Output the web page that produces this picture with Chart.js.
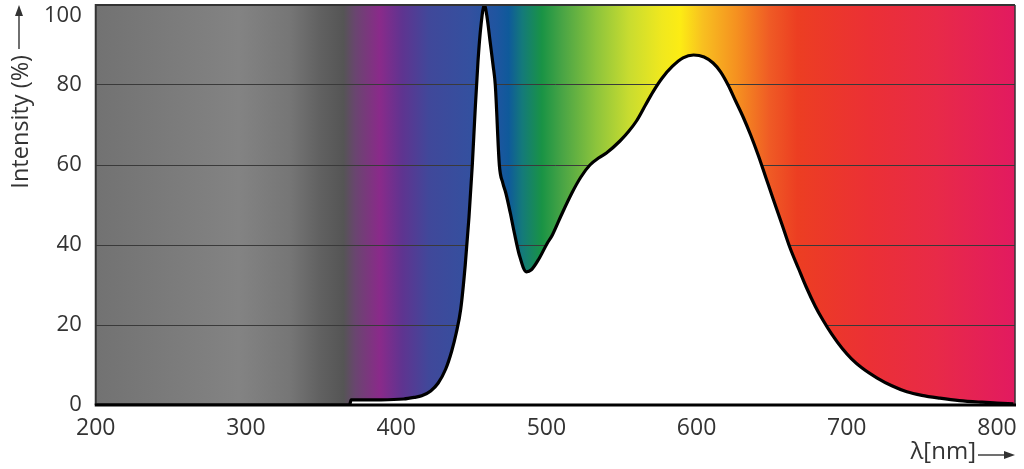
<!DOCTYPE html>
<html>
<head>
<meta charset="utf-8">
<script src="https://cdn.jsdelivr.net/npm/chart.js@4.4.1/dist/chart.umd.min.js"></script>
<style>
  html, body { margin: 0; padding: 0; background: #ffffff; }
  #wrap { width: 1024px; height: 469px; position: relative; }
</style>
</head>
<body>
<div id="wrap"><canvas id="c"></canvas></div>
<script>
// ---- data ----
const wavelengths = [200, 369, 370, 390, 405, 412, 417, 423, 428, 433, 437, 440, 443, 446, 448.5, 450.7, 452.5, 454.5, 456.5, 458.7, 460.5, 462.5, 464.5, 466, 468.7, 471, 473, 476, 478.7, 482, 486.7, 490, 495, 500.7, 504, 510, 517, 523, 529, 535, 540, 549, 555, 560, 566, 571, 577, 584, 591, 598, 605, 611, 616, 621, 626, 631, 636, 641, 646, 651, 657, 662, 668, 673, 679, 684, 690, 697, 703, 710, 720, 730, 740, 750, 762, 775, 790, 800, 811];
const intensity   = [0, 0, 1.3, 1.3, 1.5, 1.9, 2.3, 3.5, 5.5, 9, 13.5, 18, 24, 35, 47, 60, 73, 86, 95, 100, 97, 91, 85, 80, 60, 55.5, 53, 48, 43, 37.5, 33.3, 33.8, 36.5, 40.5, 42.5, 47.5, 53, 57, 60, 61.8, 63, 66, 68.5, 71, 75, 78.3, 81.7, 84.7, 86.8, 87.5, 87, 85.5, 83.3, 80, 76, 72, 67.5, 62.5, 57, 51.5, 45, 39.5, 34, 29.5, 24.7, 21.3, 17.7, 14.1, 11.6, 9.3, 6.8, 4.8, 3.3, 2.4, 1.7, 1.1, 0.7, 0.5, 0.3];
const xTickValues = [200, 300, 400, 500, 600, 700, 800];
const yTickValues = [0, 20, 40, 60, 80, 100];
const yTitle = 'Intensity (%)';
const xTitle = 'λ[nm]';

// ---- spectrum background colour stops (style: wavelength -> colour) ----
const spectrumStops = [
  [200, '#727272'], [295, '#838383'], [329, '#767676'], [349, '#616161'], [365, '#555555'],
  [373, '#6a4570'], [389, '#8a2a8a'], [404, '#5f3490'], [422, '#40489a'], [449, '#34509f'],
  [467, '#1e55a0'], [475, '#0f5a9a'], [484, '#147a7a'], [497, '#199345'], [511, '#4aa545'],
  [533, '#8cc43c'], [555, '#c8dc30'], [577, '#f0e81e'], [589, '#fcec14'], [604, '#f8c020'],
  [627, '#f59020'], [649, '#ef5a25'], [667, '#ec3e22'], [715, '#eb3035'], [760, '#e82a48'],
  [812, '#e21a60']
];

const FONT = '"Open Sans", "DejaVu Sans", sans-serif';
const TEXT_COLOR = '#333333';

const spectrumPlugin = {
  id: 'spectrum',
  beforeDraw(chart) {
    const { ctx, chartArea: a, scales } = chart;
    const xs = scales.x;
    const g = ctx.createLinearGradient(a.left, 0, a.right, 0);
    const w = a.right - a.left;
    spectrumStops.forEach(([nm, col]) => {
      let t = (xs.getPixelForValue(nm) - a.left) / w;
      t = Math.max(0, Math.min(1, t));
      g.addColorStop(t, col);
    });
    ctx.save();
    ctx.fillStyle = g;
    ctx.fillRect(a.left, a.top, w, a.bottom - a.top);
    ctx.restore();
  },
  afterDatasetsDraw(chart) {
    const { ctx, chartArea: a } = chart;
    ctx.save();
    ctx.strokeStyle = '#333333';
    ctx.lineWidth = 2;
    ctx.beginPath();
    ctx.moveTo(a.left, a.bottom);
    ctx.lineTo(a.left, a.top);
    ctx.lineTo(a.right, a.top);
    ctx.stroke();
    ctx.lineWidth = 1.5;
    ctx.beginPath();
    ctx.moveTo(a.right, a.top);
    ctx.lineTo(a.right, a.bottom);
    ctx.stroke();
    ctx.strokeStyle = '#000000';
    ctx.lineWidth = 3;
    ctx.beginPath();
    ctx.moveTo(a.left - 1, a.bottom);
    ctx.lineTo(a.right + 1, a.bottom);
    ctx.stroke();
    ctx.restore();
  },
  afterDraw(chart) {
    const { ctx, chartArea: a } = chart;
    ctx.save();
    ctx.fillStyle = TEXT_COLOR;
    ctx.strokeStyle = TEXT_COLOR;
    // y title, rotated, with an upward arrow above it
    ctx.font = '23.5px ' + FONT;
    const yx = 21;
    const arrowLen = 44;
    ctx.save();
    ctx.translate(yx, a.top + arrowLen + 6);
    ctx.rotate(-Math.PI / 2);
    ctx.textAlign = 'right';
    ctx.textBaseline = 'middle';
    ctx.fillText(yTitle, 0, 0);
    ctx.restore();
    ctx.lineWidth = 1.4;
    ctx.beginPath();
    ctx.moveTo(yx - 2, a.top + arrowLen);
    ctx.lineTo(yx - 2, a.top + 8);
    ctx.stroke();
    ctx.beginPath();
    ctx.moveTo(yx - 2, a.top);
    ctx.lineTo(yx - 6, a.top + 11);
    ctx.lineTo(yx + 2, a.top + 11);
    ctx.closePath();
    ctx.fill();
    // x title with a right arrow
    ctx.font = '24px ' + FONT;
    const ty = 455;
    const arrowEnd = a.right;
    const arrowStart = arrowEnd - 37;
    ctx.textAlign = 'right';
    ctx.textBaseline = 'middle';
    ctx.fillText(xTitle, arrowStart - 2, ty - 3);
    ctx.beginPath();
    ctx.moveTo(arrowStart, ty);
    ctx.lineTo(arrowEnd - 8, ty);
    ctx.stroke();
    ctx.beginPath();
    ctx.moveTo(arrowEnd, ty);
    ctx.lineTo(arrowEnd - 11, ty - 4);
    ctx.lineTo(arrowEnd - 11, ty + 4);
    ctx.closePath();
    ctx.fill();
    ctx.restore();
  }
};

new Chart(document.getElementById('c'), {
  type: 'line',
  data: {
    datasets: [{
      data: wavelengths.map((x, i) => ({ x: x, y: intensity[i] })),
      borderColor: '#000000',
      borderWidth: 3.2,
      backgroundColor: '#ffffff',
      fill: 'origin',
      pointRadius: 0,
      cubicInterpolationMode: 'monotone',
      tension: 0.4
    }]
  },
  options: {
    responsive: true,
    maintainAspectRatio: false,
    animation: false,
    events: [],
    layout: { padding: { left: 30, right: 9, top: 5, bottom: 17 } },
    plugins: { legend: { display: false }, tooltip: { enabled: false } },
    scales: {
      x: {
        type: 'linear',
        min: 200,
        max: 812,
        afterBuildTicks: (s) => { s.ticks = xTickValues.map(v => ({ value: v })); },
        afterFit: (s) => { s.paddingLeft = 0; s.paddingRight = 0; },
        grid: { display: false, drawTicks: false },
        border: { display: false },
        ticks: {
          padding: 12,
          color: TEXT_COLOR,
          font: { family: FONT, size: 23, lineHeight: 1 },
          maxRotation: 0,
          autoSkip: false
        }
      },
      y: {
        min: 0,
        max: 100,
        afterBuildTicks: (s) => { s.ticks = yTickValues.map(v => ({ value: v })); },
        afterFit: (s) => { s.paddingTop = 0; s.paddingBottom = 0; },
        grid: {
          drawTicks: false,
          lineWidth: 1,
          color: (c) => (c.tick && (c.tick.value === 0 || c.tick.value === 100)) ? 'rgba(0,0,0,0)' : '#3a3a3a'
        },
        border: { display: false },
        ticks: {
          padding: 14,
          color: TEXT_COLOR,
          font: { family: FONT, size: 22, lineHeight: 1 },
          callback: (v) => v === 100 ? ['', '100'] : String(v)
        }
      }
    }
  },
  plugins: [spectrumPlugin]
});
</script>
</body>
</html>
